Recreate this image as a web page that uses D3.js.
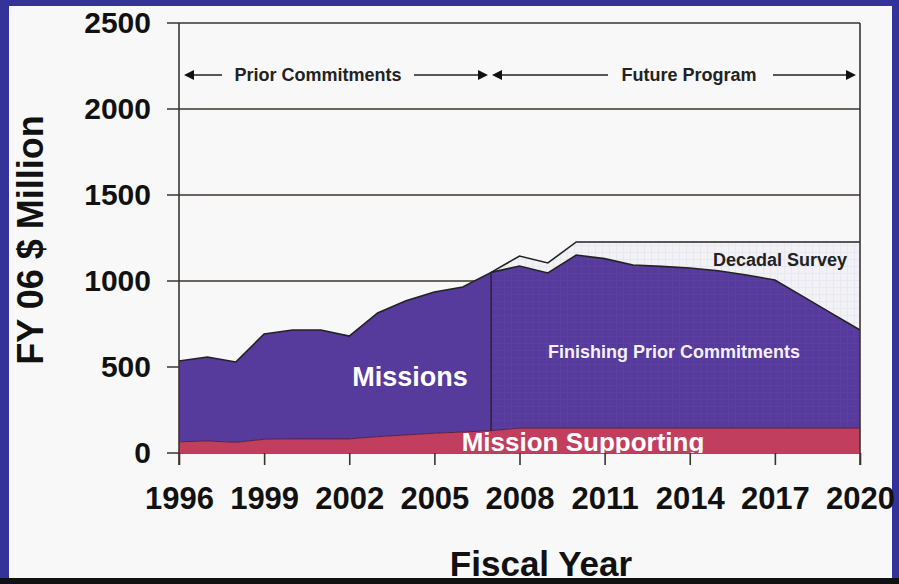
<!DOCTYPE html>
<html>
<head>
<meta charset="utf-8">
<script src="https://cdn.jsdelivr.net/npm/d3@7"></script>
<style>
  body { margin: 0; background: #333399; }
  svg { display: block; }
  text { font-family: "Liberation Sans", Arial, sans-serif; font-weight: bold; }
</style>
</head>
<body>
<script>
// values (FY06 $M, stacked tops)
var years      = [1996,1997,1998,1999,2000,2001,2002,2003,2004,2005,2006,2007,2008,2009,2010,2011,2012,2013,2014,2015,2016,2017,2018,2019,2020];
var supporting = [65,70,62,80,82,82,82,95,105,115,122,130,145,145,145,145,145,145,145,145,145,145,145,145,145];
var missionYears = [1996,1997,1998,1999,2000,2001,2002,2003,2004,2005,2006,2007];
var missionsTop  = [535,558,529,692,715,715,680,814,885,936,965,1050];
var futureYears   = [2007,2008,2009,2010,2011,2012,2013,2014,2015,2016,2017,2018,2019,2020];
var finishingTop  = [1050,1087,1047,1151,1130,1093,1085,1076,1060,1035,1006,909,812,715];
var decadalTop    = [1050,1145,1105,1227,1227,1227,1227,1227,1227,1227,1227,1227,1227,1227];
var yTicks = [0,500,1000,1500,2000,2500];
var xTicks = [1996,1999,2002,2005,2008,2011,2014,2017,2020];

var W = 899, H = 584;
var svg = d3.select("body").append("svg").attr("width", W).attr("height", H);

// frame
svg.append("rect").attr("x",0).attr("y",0).attr("width",W).attr("height",H).attr("fill","#333399");
svg.append("rect").attr("x",9).attr("y",6).attr("width",883).attr("height",572).attr("fill","#f8f8f8");
svg.append("rect").attr("x",0).attr("y",578).attr("width",W).attr("height",6).attr("fill","#111");

var x = d3.scaleLinear().domain([1996,2020]).range([179,860]);
var y = d3.scaleLinear().domain([0,2500]).range([453,23]);
var ink = "#3a342e";

var defs = svg.append("defs");
var pat = defs.append("pattern").attr("id","grid").attr("width",7).attr("height",7).attr("patternUnits","userSpaceOnUse");
pat.append("rect").attr("width",7).attr("height",7).attr("fill","#563a9c");
pat.append("path").attr("d","M0,0.5H7M0.5,0V7").attr("stroke","#5c40a1").attr("stroke-width",1);
var pat2 = defs.append("pattern").attr("id","grid2").attr("width",7).attr("height",7).attr("patternUnits","userSpaceOnUse");
pat2.append("rect").attr("width",7).attr("height",7).attr("fill","#f1f1f6");
pat2.append("path").attr("d","M0,0.5H7M0.5,0V7").attr("stroke","#e8e8f0").attr("stroke-width",1);
defs.append("clipPath").attr("id","plotclip").append("rect").attr("x",179).attr("y",23).attr("width",681).attr("height",430);

// grid lines + y ticks
svg.append("g").selectAll("line").data(yTicks).enter().append("line")
  .attr("x1",167).attr("x2",860).attr("y1",function(d){return y(d);}).attr("y2",function(d){return y(d);})
  .attr("stroke",ink).attr("stroke-width",1.6);

var supByYear = {};
years.forEach(function(yr,i){ supByYear[yr] = supporting[i]; });

var areaTop = d3.area().x(function(d){return x(d.yr);}).y0(function(d){return y(d.lo);}).y1(function(d){return y(d.hi);});
var lineTop = d3.line().x(function(d){return x(d.yr);}).y(function(d){return y(d.hi);});

var decData = futureYears.map(function(yr,i){ return {yr:yr, lo:finishingTop[i], hi:decadalTop[i]}; });
var finData = futureYears.map(function(yr,i){ return {yr:yr, lo:supByYear[yr], hi:finishingTop[i]}; });
var misData = missionYears.map(function(yr,i){ return {yr:yr, lo:supByYear[yr], hi:missionsTop[i]}; });
var supData = years.map(function(yr,i){ return {yr:yr, lo:0, hi:supporting[i]}; });

svg.append("path").attr("d", areaTop(decData)).attr("fill","url(#grid2)");
svg.append("path").attr("d", areaTop(finData)).attr("fill","url(#grid)");
svg.append("path").attr("d", areaTop(misData)).attr("fill","#563a9c");
svg.append("path").attr("d", areaTop(supData)).attr("fill","#c23e5f");

svg.append("path").attr("d", lineTop(decData)).attr("fill","none").attr("stroke","#222").attr("stroke-width",1.6);
svg.append("path").attr("d", lineTop(finData)).attr("fill","none").attr("stroke","#222").attr("stroke-width",1.6);
svg.append("path").attr("d", lineTop(misData)).attr("fill","none").attr("stroke","#222").attr("stroke-width",1.6);
svg.append("path").attr("d", lineTop(supData)).attr("fill","none").attr("stroke","#5a2040").attr("stroke-width",1);
svg.append("line").attr("x1",x(2007)).attr("x2",x(2007)).attr("y1",y(supByYear[2007])).attr("y2",y(1050))
  .attr("stroke","#222").attr("stroke-width",1.4);

// axis frame
svg.append("line").attr("x1",x(1996)).attr("x2",x(1996)).attr("y1",23).attr("y2",465).attr("stroke",ink).attr("stroke-width",1.6);
svg.append("line").attr("x1",x(2020)).attr("x2",x(2020)).attr("y1",23).attr("y2",465).attr("stroke",ink).attr("stroke-width",1.6);

var yAxis = d3.axisLeft(y).tickValues(yTicks).tickFormat(d3.format("d")).tickSize(0).tickPadding(0);
var yg = svg.append("g").attr("transform","translate(151,0)").call(yAxis);
yg.select(".domain").remove();
yg.selectAll("text").attr("font-size",30).attr("fill","#111").attr("font-family","Liberation Sans, Arial").attr("font-weight","bold");

var xAxis = d3.axisBottom(x).tickValues(xTicks).tickFormat(d3.format("d")).tickSize(12).tickPadding(22);
var xg = svg.append("g").attr("transform","translate(0,453)").call(xAxis);
xg.select(".domain").remove();
xg.selectAll("line").attr("stroke",ink).attr("stroke-width",1.6);
xg.selectAll("text").attr("font-size",31).attr("fill","#111").attr("font-family","Liberation Sans, Arial").attr("font-weight","bold");

// labels
function addText(tx, ty, t, size, fill, anchor) {
  return svg.append("text").attr("x",tx).attr("y",ty).attr("font-size",size).attr("fill",fill)
    .attr("text-anchor",anchor || "middle").text(t);
}
addText(410, 386, "Missions", 27, "#fff");
addText(674, 358, "Finishing Prior Commitments", 18, "#f4f0ff");
addText(780, 266, "Decadal Survey", 18, "#222");
addText(583, 451, "Mission Supporting", 26, "#fff").attr("clip-path","url(#plotclip)");
addText(318, 81, "Prior Commitments", 18, "#222");
addText(689, 81, "Future Program", 18, "#222");
addText(541, 576, "Fiscal Year", 35, "#111");
svg.append("text").attr("transform","translate(43,240) rotate(-90)").attr("text-anchor","middle")
  .attr("font-size",36).attr("fill","#111").text("FY 06 $ Million");

// period arrows
function addLine(x1, x2, yy) {
  svg.append("line").attr("x1",x1).attr("x2",x2).attr("y1",yy).attr("y2",yy).attr("stroke","#222").attr("stroke-width",1.4);
}
function addHead(tip, dir, yy) {
  svg.append("path").attr("d","M"+tip+","+yy+"L"+(tip-dir*10)+","+(yy-5)+"L"+(tip-dir*10)+","+(yy+5)+"Z").attr("fill","#111");
}
addLine(186,222,75); addHead(184,-1,75);
addLine(414,484,75); addHead(488,1,75);
addLine(496,608,75); addHead(492,-1,75);
addLine(773,852,75); addHead(856,1,75);
</script>
</body>
</html>
